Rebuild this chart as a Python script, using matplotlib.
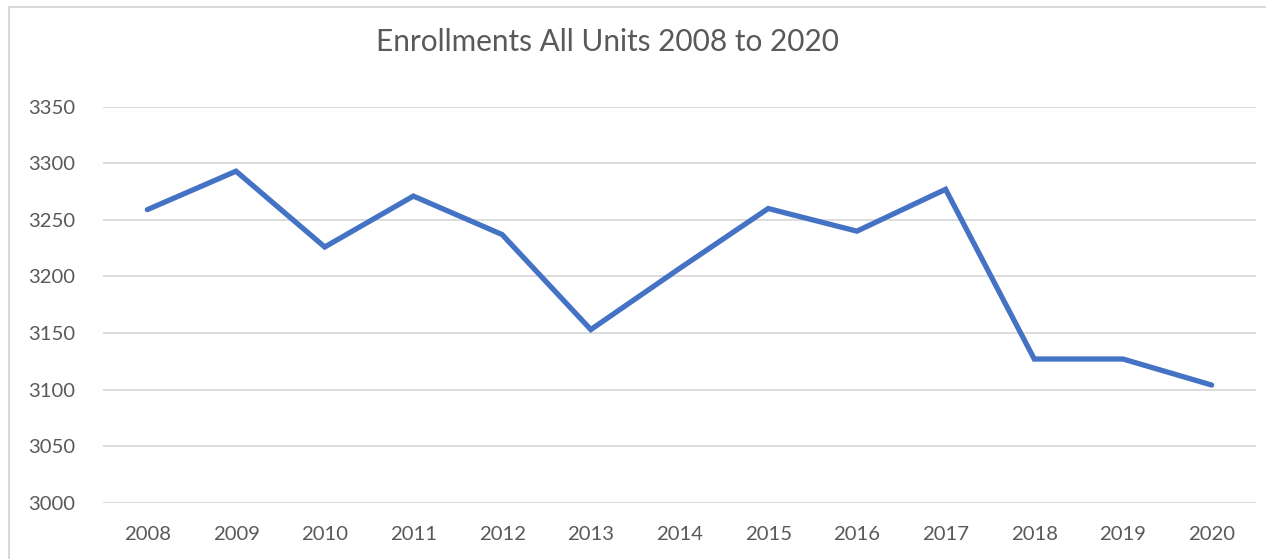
import matplotlib
matplotlib.use("Agg")
import matplotlib.pyplot as plt
from matplotlib.patches import Rectangle

years = ["2008", "2009", "2010", "2011", "2012", "2013", "2014",
         "2015", "2016", "2017", "2018", "2019", "2020"]
enrollments = [3259, 3293, 3226, 3271, 3237, 3153, 3207,
               3260, 3240, 3277, 3127, 3127, 3104]
y_ticks = [3000, 3050, 3100, 3150, 3200, 3250, 3300, 3350]
title = "Enrollments All Units 2008 to 2020"

W, H = 1266, 559
DPI = 100
plt.rcParams['font.family'] = ['Lato', 'DejaVu Sans']

fig = plt.figure(figsize=(W / DPI, H / DPI), dpi=DPI)
fig.patch.set_facecolor("white")

# chart frame (cut off at right/bottom as in reference)
fig.patches.append(Rectangle((9 / W, -0.05), 1.1, 1 - 7 / H + 0.05,
                             transform=fig.transFigure, fill=False,
                             edgecolor="#D9D9D9", linewidth=1.5))

left, right = 103 / W, 1256 / W
bottom, top = 1 - 502.7 / H, 1 - 106.7 / H
ax = fig.add_axes([left, bottom, right - left, top - bottom])

x = list(range(len(years)))
ax.plot(x, enrollments, color="#4472C4", linewidth=3.8,
        solid_joinstyle="miter", solid_capstyle="round", zorder=3)

ax.set_xlim(-0.5, len(years) - 0.5)
ax.set_ylim(3000, 3350)
ax.set_yticks(y_ticks)
ax.set_yticklabels([str(v) for v in y_ticks])
ax.set_xticks(x)
ax.set_xticklabels(years)

ax.grid(axis="y", color="#D9D9D9", linewidth=1.3)
ax.set_axisbelow(True)
for s in ax.spines.values():
    s.set_visible(False)
ax.tick_params(axis="both", length=0, labelsize=14.6, colors="#595959")
ax.tick_params(axis="y", pad=20)
ax.tick_params(axis="x", pad=17)

fig.text(608 / W, 1 - 42 / H, title, ha="center", va="center",
         fontsize=21.4, color="#595959")

fig.savefig("out.png", dpi=DPI, facecolor="white")
